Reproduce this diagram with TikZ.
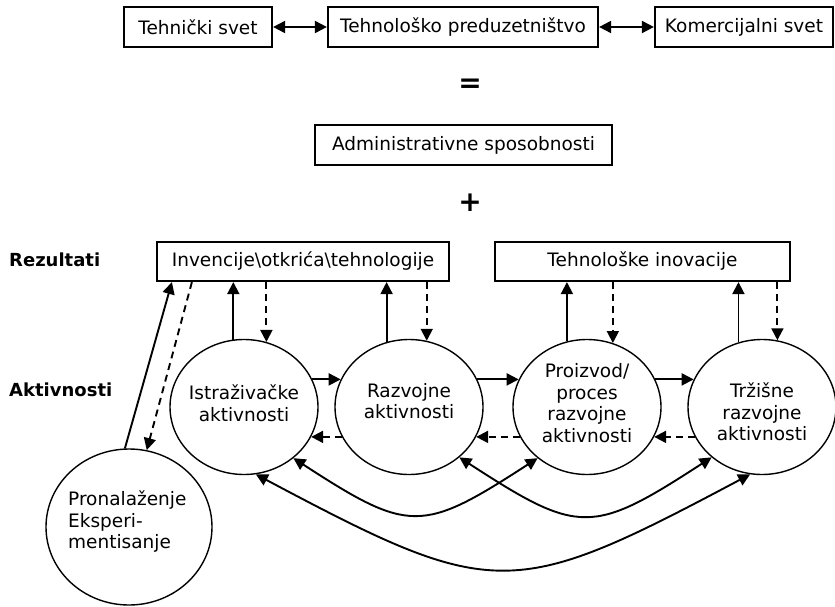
\documentclass[tikz,border=0pt]{standalone}
\usepackage{fontspec}
\setmainfont{DejaVu Sans}
\usetikzlibrary{arrows.meta,shapes.geometric}
\begin{document}
\begin{tikzpicture}[x=1pt,y=1pt,
  every node/.style={font=\fontsize{18.5}{21.5}\selectfont},
  box/.style={draw, line width=2.2pt, minimum height=40pt, inner sep=0pt},
  act/.style={draw, ellipse, line width=1.4pt, minimum width=148pt, minimum height=135pt, inner sep=0pt},
  txt/.style={align=center, inner sep=0pt},
  con/.style={line width=1.9pt, -{Triangle[length=12pt,width=12pt]}},
  back/.style={con, dash pattern=on 7pt off 5pt},
  link/.style={line width=1.9pt, {Triangle[length=12pt,width=12pt]}-{Triangle[length=12pt,width=12pt]}},
  heading/.style={font=\bfseries\fontsize{18}{21}\selectfont, anchor=west, inner sep=0pt},
  sign/.style={font=\bfseries\fontsize{28}{28}\selectfont, inner sep=0pt}
]
\useasboundingbox (0,0) rectangle (835,-607);

% top row
\node[box, minimum width=148pt] (ts) at (198,-27) {Tehnički svet};
\node[box, minimum width=270pt] (tp) at (463,-27) {Tehnološko preduzetništvo};
\node[box, minimum width=178pt] (ks) at (744,-27) {Komercijalni svet};
\draw[link] (ts) -- (tp);
\draw[link] (tp) -- (ks);

\node[sign] (eq) at (470,-86) {=};
\node[box, minimum width=297pt] (adm) at (463.5,-145) {Administrativne sposobnosti};
\node[sign] (plus) at (470,-203) {+};

% row labels
\node[heading] (rez) at (9,-260) {Rezultati};
\node[heading] (akt) at (9,-390) {Aktivnosti};

% results
\node[box, minimum width=292pt, minimum height=39pt] (inv) at (303,-261.5) {Invencije\textbackslash otkrića\textbackslash tehnologije};
\node[box, minimum width=295pt, minimum height=39pt] (ino) at (642.5,-261.5) {Tehnološke inovacije};

% activities
\node[act] (c1) at (244,-407) {};
\node[act] (c2) at (409,-407) {};
\node[act] (c3) at (587,-407) {};
\node[act] (c4) at (762,-407) {};
\node[txt] (t1) at (244,-403) {Istraživačke\\aktivnosti};
\node[txt] (t2) at (409,-401) {Razvojne\\aktivnosti};
\node[txt] (t3) at (587,-403) {Proizvod/\\proces\\razvojne\\aktivnosti};
\node[txt] (t4) at (762,-412) {Tržišne\\razvojne\\aktivnosti};

\node[act, minimum width=166pt, minimum height=156pt] (pe) at (129,-527) {};
\node[txt, align=left, anchor=west] (t5) at (68,-522) {Pronalaženje\\Eksperi-\\mentisanje};

% activities to results and back
\draw[con] (c1.99) -- (c1.99 |- inv.south);
\draw[back] (c1.71 |- inv.south) -- (c1.71);
\draw[con] (c2.109) -- (c2.109 |- inv.south);
\draw[back] (c2.75 |- inv.south) -- (c2.75);
\draw[con] (c3.107) -- (c3.107 |- ino.south);
\draw[back] (c3.68 |- ino.south) -- (c3.68);
\draw[con] (c4.110) -- (c4.110 |- ino.south);
\draw[back] (c4.77 |- ino.south) -- (c4.77);

% forward and feedback between activities
\draw[con] (c1.22) -- (c2.158);
\draw[con] (c2.22) -- (c3.158);
\draw[con] (c3.22) -- (c4.158);
\draw[back] (c2.204) -- (c1.-24);
\draw[back] (c3.204) -- (c2.-24);
\draw[back] (c4.204) -- (c3.-24);

% search / experimentation
\draw[con] (pe.93) -- ([xshift=16pt]inv.south west);
\draw[back] ([xshift=36pt]inv.south west) -- (pe.77);

% long-range links
\draw[link] (c1.-46) to[out=-33, in=-147, looseness=1.45] (c3.-134);
\draw[link] (c2.-45) to[out=-33, in=-147, looseness=1.45] (c4.-135);
\draw[link] (c1.-80) to[out=-28, in=-152, looseness=1.4] (c4.-100);
\end{tikzpicture}
\end{document}
